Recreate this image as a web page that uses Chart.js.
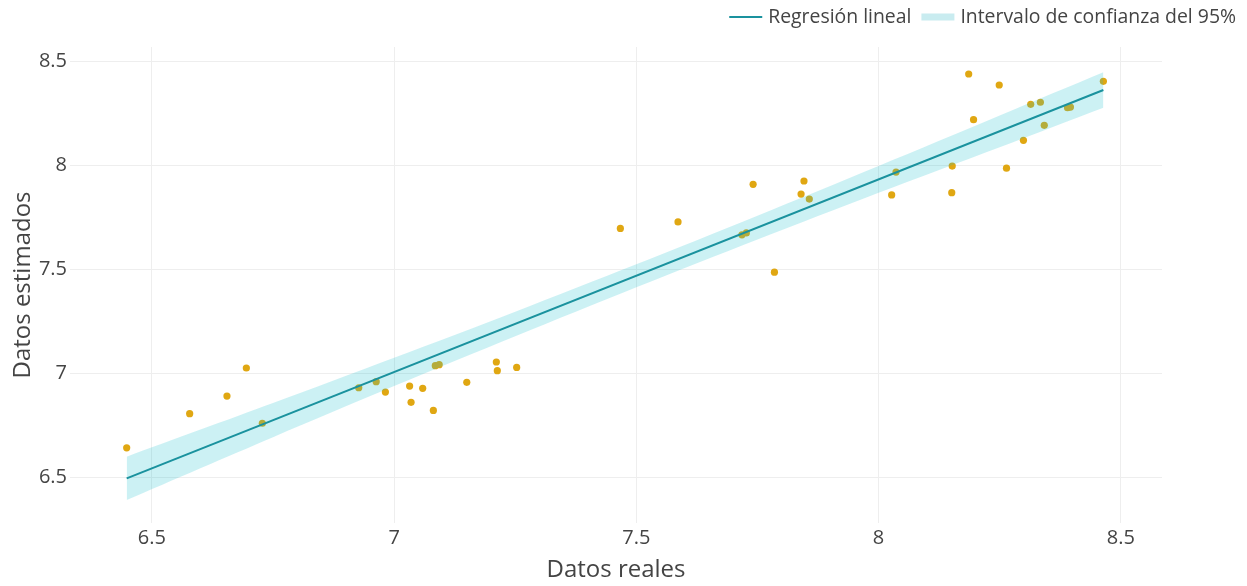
<!DOCTYPE html>
<html>
<head>
<meta charset="utf-8">
<script src="https://cdn.jsdelivr.net/npm/chart.js@4/dist/chart.umd.min.js"></script>
<style>
  html, body { margin: 0; padding: 0; background: #fff; }
  #wrap { width: 1247px; height: 586px; }
</style>
</head>
<body>
<div id="wrap"><canvas id="chart" width="1247" height="586"></canvas></div>
<script>
// observed points (Datos reales vs Datos estimados)
const realX = [6.448, 6.578, 6.655, 6.695, 6.728, 6.927, 6.963, 6.982, 7.032, 7.035,
               7.059, 7.081, 7.085, 7.093, 7.150, 7.211, 7.213, 7.253, 7.467, 7.586,
               7.718, 7.727, 7.741, 7.785, 7.840, 7.846, 7.857, 8.027, 8.036, 8.151,
               8.152, 8.186, 8.196, 8.249, 8.264, 8.299, 8.314, 8.334, 8.342, 8.390,
               8.396, 8.464];
const estY  = [6.642, 6.806, 6.891, 7.026, 6.760, 6.931, 6.960, 6.910, 6.939, 6.861,
               6.928, 6.822, 7.037, 7.042, 6.957, 7.055, 7.013, 7.029, 7.698, 7.729,
               7.667, 7.676, 7.910, 7.487, 7.863, 7.926, 7.839, 7.859, 7.969, 7.870,
               7.998, 8.441, 8.221, 8.388, 7.988, 8.122, 8.295, 8.305, 8.194, 8.279,
               8.282, 8.406];

// regression line end points
const fitX = [6.448, 8.464];
const fitY = [6.495, 8.364];

// 95% confidence band, read at a few x positions
const bandX     = [6.448, 6.75, 7.0, 7.25, 7.5, 7.75, 8.0, 8.25, 8.464];
const bandUpper = [6.599, 6.857, 7.075, 7.297, 7.525, 7.759, 7.998, 8.241, 8.449];
const bandLower = [6.391, 6.693, 6.939, 7.179, 7.415, 7.645, 7.870, 8.089, 8.279];

const xTicks = [6.5, 7, 7.5, 8, 8.5];
const yTicks = [6.5, 7, 7.5, 8, 8.5];

const legendLabels = ['Regresión lineal', 'Intervalo de confianza del 95%'];

const pointColor = '#e0a712';
const lineColor = '#1a929e';
const bandColor = 'rgba(23,190,207,0.22)';
const bandSwatch = '#c9ecf0';
const gridColor = '#eeeeee';
const textColor = '#444444';
const fontFamily = "'Open Sans', 'Noto Sans', sans-serif";

Chart.defaults.font.family = fontFamily;
Chart.defaults.color = textColor;

const toXY = (xs, ys) => xs.map((x, i) => ({x: x, y: ys[i]}));

// legend drawn at the top right, like the plotly original
const topLegend = {
    id: 'topLegend',
    afterDraw(chart) {
        const ctx = chart.ctx;
        ctx.save();
        ctx.font = '19.4px ' + fontFamily;
        ctx.textBaseline = 'middle';
        ctx.fillStyle = textColor;
        const y = 17;
        const sw = 33, gap = 6, between = 10;
        const w1 = ctx.measureText(legendLabels[0]).width;
        const w2 = ctx.measureText(legendLabels[1]).width;
        const t2 = 1236 - w2;
        const s2 = t2 - gap - sw;
        const t1 = s2 - between - w1;
        const s1 = t1 - gap - sw;

        ctx.strokeStyle = lineColor;
        ctx.lineWidth = 2;
        ctx.beginPath();
        ctx.moveTo(s1, y); ctx.lineTo(s1 + sw, y);
        ctx.stroke();
        ctx.fillText(legendLabels[0], t1, y);

        ctx.strokeStyle = bandSwatch;
        ctx.lineWidth = 7;
        ctx.beginPath();
        ctx.moveTo(s2, y); ctx.lineTo(s2 + sw, y);
        ctx.stroke();
        ctx.fillText(legendLabels[1], t2, y);
        ctx.restore();
    }
};

new Chart(document.getElementById('chart'), {
    type: 'scatter',
    data: {
        datasets: [
            {
                type: 'line',
                label: legendLabels[0],
                data: toXY(fitX, fitY),
                borderColor: lineColor,
                borderWidth: 2,
                pointRadius: 0,
                fill: false,
                order: 0
            },
            {
                type: 'line',
                label: 'lower',
                data: toXY(bandX, bandLower),
                borderWidth: 0,
                borderColor: 'rgba(0,0,0,0)',
                pointRadius: 0,
                tension: 0.3,
                fill: false,
                order: 1
            },
            {
                type: 'line',
                label: legendLabels[1],
                data: toXY(bandX, bandUpper),
                borderWidth: 0,
                borderColor: 'rgba(0,0,0,0)',
                backgroundColor: bandColor,
                pointRadius: 0,
                tension: 0.3,
                fill: '-1',
                order: 1
            },
            {
                label: 'Datos',
                data: toXY(realX, estY),
                backgroundColor: pointColor,
                borderWidth: 0,
                pointRadius: 3.6,
                order: 2
            }
        ]
    },
    options: {
        responsive: false,
        animation: false,
        layout: { padding: { left: 0, top: 47, right: 85, bottom: 0 } },
        plugins: {
            legend: { display: false },
            tooltip: { enabled: false }
        },
        scales: {
            x: {
                type: 'linear',
                min: 6.331,
                max: 8.585,
                afterBuildTicks: s => { s.ticks = xTicks.map(v => ({value: v})); },
                afterFit: s => { s.height = 63; },
                grid: { color: gridColor, drawTicks: false },
                border: { display: false },
                ticks: { padding: 3, font: { size: 20 }, color: textColor, callback: v => String(v) },
                title: { display: true, text: 'Datos reales', font: { size: 24 }, color: textColor, padding: { top: 0, bottom: 1 } }
            },
            y: {
                type: 'linear',
                min: 6.28,
                max: 8.571,
                afterBuildTicks: s => { s.ticks = yTicks.map(v => ({value: v})); },
                afterFit: s => { s.width = 70; },
                grid: { color: gridColor, drawTicks: false },
                border: { display: false },
                ticks: { padding: 3, font: { size: 20 }, color: textColor, callback: v => String(v) },
                title: { display: true, text: 'Datos estimados', font: { size: 24 }, color: textColor, padding: { top: 9, bottom: 0 } }
            }
        }
    },
    plugins: [topLegend]
});
</script>
</body>
</html>
